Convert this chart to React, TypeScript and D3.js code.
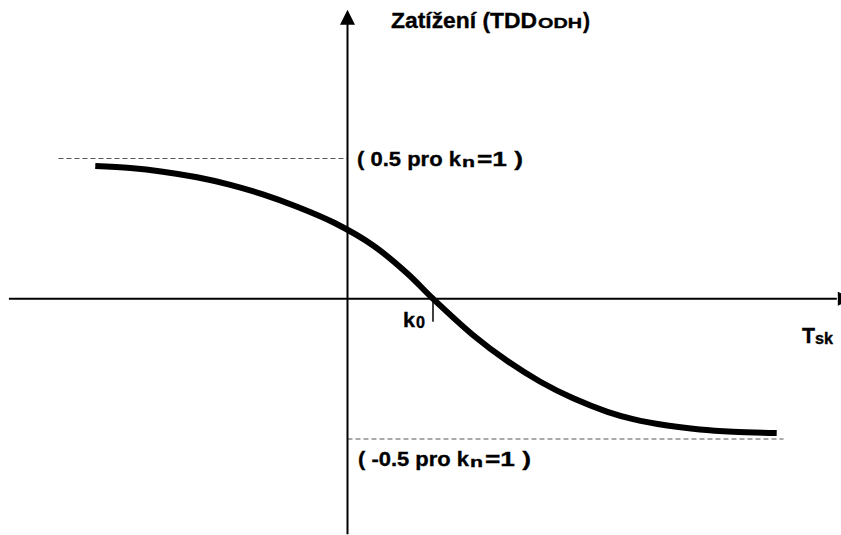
import React from "react";
import * as d3 from "d3";

// Curve samples: Tsk (k0 = 1) vs. load (TDD_ODH)
const tskValues = [-2.95, -2.54, -2.16, -1.76, -1.37, -0.99, -0.59, -0.15, 0.3, 0.7, 1.0, 1.47, 1.87, 2.25, 2.64, 3.04, 3.34, 3.74, 4.12, 4.51, 5.02];
const loadValues = [0.473, 0.466, 0.453, 0.433, 0.406, 0.372, 0.328, 0.27, 0.19, 0.09, 0, -0.13, -0.222, -0.295, -0.355, -0.403, -0.429, -0.452, -0.466, -0.474, -0.479];

const upperLevel = 0.5;
const lowerLevel = -0.5;
const k0Value = 1;
const xAxisRange = [-3.96, 5.77];
const yAxisRange = [-0.84, 1.03];
const upperDashFrom = -3.38;
const lowerDashTo = 5.1;

const FONT = "'Liberation Sans', Arial, sans-serif";

export default function App() {
  const x = d3.scaleLinear().domain([0, 1]).range([347.5, 433]);
  const y = d3.scaleLinear().domain([lowerLevel, upperLevel]).range([439, 158.5]);

  const pts: [number, number][] = tskValues.map((t, i) => [t, loadValues[i]]);
  const line = d3
    .line<[number, number]>()
    .x((d) => x(d[0]))
    .y((d) => y(d[1]))
    .curve(d3.curveCatmullRom.alpha(0.5));

  const x0 = x(0);
  const y0 = y(0);
  const yTop = y(yAxisRange[1]);
  const yBottom = y(yAxisRange[0]);
  const xLeft = x(xAxisRange[0]);
  const xRight = x(xAxisRange[1]);

  const t = (props: any, content: string) => (
    <text
      fontFamily={FONT}
      fontWeight="bold"
      fill="#000"
      stroke="#000"
      strokeWidth={0.35}
      lengthAdjust="spacingAndGlyphs"
      {...props}
    >
      {content}
    </text>
  );

  return (
    <svg width={841} height={535} style={{ position: "absolute", left: 0, top: 0, background: "#fff" }}>
      <rect x={0} y={0} width={841} height={535} fill="#fff" />
      {/* dashed limit lines */}
      <line x1={x(upperDashFrom)} x2={x0} y1={y(upperLevel)} y2={y(upperLevel)} stroke="#555" strokeWidth={1} strokeDasharray="5,3" />
      <line x1={x0} x2={x(lowerDashTo)} y1={y(lowerLevel)} y2={y(lowerLevel)} stroke="#555" strokeWidth={1} strokeDasharray="5,3" />

      {/* axes */}
      <line x1={xLeft} x2={xRight - 4} y1={y0} y2={y0} stroke="#000" strokeWidth={2} />
      <path d={`M${xRight - 3},${y0 - 7} L${xRight + 12},${y0} L${xRight - 3},${y0 + 7} Z`} fill="#000" />
      <line x1={x0} x2={x0} y1={yTop + 14} y2={yBottom} stroke="#000" strokeWidth={2} />
      <path d={`M${x0 - 7.5},${yTop + 15} L${x0},${yTop} L${x0 + 7.5},${yTop + 15} Z`} fill="#000" />

      {/* k0 tick */}
      <line x1={x(k0Value)} x2={x(k0Value)} y1={y0} y2={y0 + 23} stroke="#000" strokeWidth={1.5} />

      {/* curve */}
      <path d={line(pts) || ""} fill="none" stroke="#000" strokeWidth={6} strokeLinecap="butt" />

      {/* title */}
      {t({ x: 391, y: 28, fontSize: 22, textLength: 146 }, "Zatížení (TDD")}
      {t({ x: 538, y: 28, fontSize: 15, textLength: 44 }, "ODH")}
      {t({ x: 583, y: 28, fontSize: 22, textLength: 7 }, ")")}

      {/* upper label */}
      {t({ x: 357, y: 166, fontSize: 21, textLength: 104 }, "( 0.5 pro k")}
      {t({ x: 462, y: 167, fontSize: 14, textLength: 13 }, "n")}
      {t({ x: 477, y: 166, fontSize: 21, textLength: 46 }, "=1 )")}

      {/* lower label */}
      {t({ x: 358, y: 466, fontSize: 21, textLength: 111 }, "( -0.5 pro k")}
      {t({ x: 470, y: 467, fontSize: 14, textLength: 13 }, "n")}
      {t({ x: 485, y: 466, fontSize: 21, textLength: 46 }, "=1 )")}

      {/* k0 */}
      {t({ x: 403, y: 327, fontSize: 21, textLength: 12 }, "k")}
      {t({ x: 416, y: 328, fontSize: 16, textLength: 9 }, "0")}

      {/* Tsk */}
      {t({ x: 802, y: 343, fontSize: 22, textLength: 13 }, "T")}
      {t({ x: 815, y: 344, fontSize: 16, textLength: 18 }, "sk")}
    </svg>
  );
}
